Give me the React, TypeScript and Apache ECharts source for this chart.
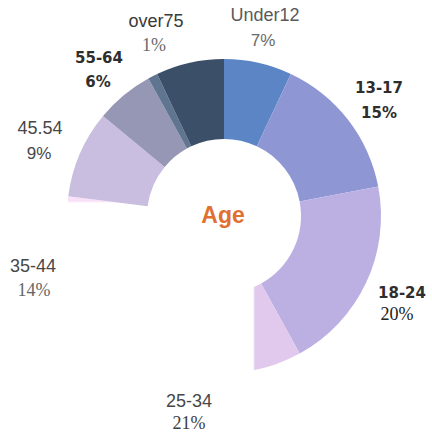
import React, { useEffect, useRef } from "react";
import * as echarts from "echarts";

// ---- data ----
const categories = ["Under12", "13-17", "18-24", "25-34", "35-44", "45.54", "55-64", "over75", ""];
const values = [7, 15, 20, 21, 14, 9, 6, 1, 7];
const pctLabels = ["7%", "15%", "20%", "21%", "14%", "9%", "6%", "1%"];

// ---- layout / style (not data) ----
const CX = 224;
const CY = 216;
const R_IN = 77;
const R_OUT = 157;

const namePos = [
  [265, 15], [379, 88], [402, 293], [189, 401], [33, 266], [40, 128], [99, 58], [156, 21],
];
const pctPos = [
  [263, 40], [379, 113], [397, 314], [189, 423], [34, 290], [39, 153], [98, 82], [154, 45],
];
const nameKind = ["plain", "bold", "bold", "plain", "plain", "plain", "bold", "plain"];
const pctKind = ["sans", "bold", "serif", "serif", "serif", "sans", "bold", "serif"];
const nameColor = ["#5a5a5a", "#2e2e2e", "#2e2e2e", "#474747", "#474747", "#474747", "#2e2e2e", "#3a3a3a"];
const pctColor = ["#6a6a6a", "#2e2e2e", "#222222", "#3e3e3e", "#666666", "#474747", "#2e2e2e", "#6a6a6a"];

const sliceColors: any[] = [
  "#5b85c5",
  "#8e97d3",
  "#bcb0e3",
  {
    type: "linear", global: true, x: 253, y: 0, x2: 255, y2: 0,
    colorStops: [{ offset: 0, color: "#ffffff" }, { offset: 1, color: "#e1c9ee" }],
  },
  {
    type: "linear", global: true, x: 0, y: 201, x2: 0, y2: 203,
    colorStops: [{ offset: 0, color: "#f9e0f9" }, { offset: 1, color: "#ffffff" }],
  },
  "#c9bde0",
  "#9597b5",
  "#5f7590",
  "#3b4f69",
];

function fontFor(kind: string) {
  if (kind === "bold") return { fontFamily: "DejaVu Sans", fontWeight: "bold", fontSize: 15 };
  if (kind === "serif") return { fontFamily: "Liberation Serif", fontWeight: "normal", fontSize: 18 };
  if (kind === "sans") return { fontFamily: "Liberation Sans", fontWeight: "normal", fontSize: 17 };
  return { fontFamily: "Liberation Sans", fontWeight: "normal", fontSize: 18 };
}

export default function App() {
  const ref = useRef<HTMLDivElement>(null);
  useEffect(() => {
    if (!ref.current) return;
    const chart = echarts.init(ref.current, null, { renderer: "svg" });
    const graphics: any[] = [];
    pctLabels.forEach((p, i) => {
      const nf = fontFor(nameKind[i]);
      const pf = fontFor(pctKind[i]);
      graphics.push({
        type: "text", x: namePos[i][0], y: namePos[i][1],
        style: { text: categories[i], fill: nameColor[i], align: "center", verticalAlign: "middle", ...nf },
      });
      graphics.push({
        type: "text", x: pctPos[i][0], y: pctPos[i][1],
        style: { text: p, fill: pctColor[i], align: "center", verticalAlign: "middle", ...pf },
      });
    });
    graphics.push({
      type: "text", x: 223, y: 215,
      style: {
        text: "Age", fill: "#e0702f", align: "center", verticalAlign: "middle",
        fontFamily: "Liberation Sans", fontWeight: "bold", fontSize: 23,
      },
    });
    chart.setOption({
      animation: false,
      backgroundColor: "#ffffff",
      graphic: graphics,
      series: [
        {
          type: "pie",
          center: [CX, CY],
          radius: [R_IN, R_OUT],
          startAngle: 90,
          clockwise: true,
          avoidLabelOverlap: false,
          silent: true,
          label: { show: false },
          labelLine: { show: false },
          itemStyle: { borderWidth: 0 },
          data: values.map((v, i) => ({
            name: categories[i] || "other",
            value: v,
            itemStyle: { color: sliceColors[i] },
          })),
        },
      ],
    });
    return () => chart.dispose();
  }, []);
  return <div ref={ref} style={{ width: 432, height: 433, position: "absolute", left: 0, top: 0 }} />;
}
